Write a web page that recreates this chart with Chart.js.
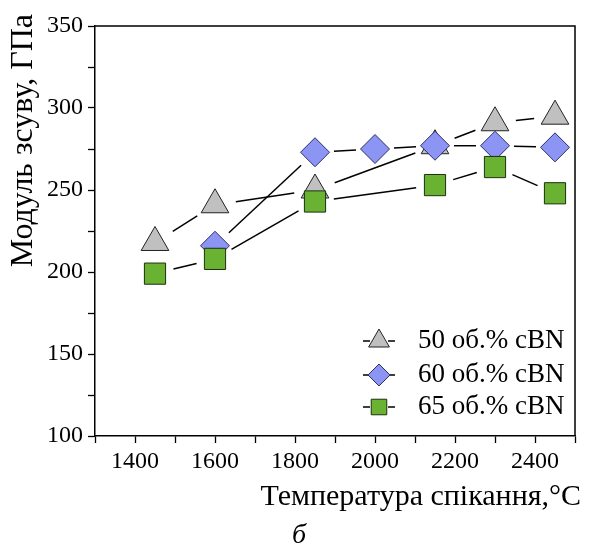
<!DOCTYPE html>
<html>
<head>
<meta charset="utf-8">
<script src="https://cdn.jsdelivr.net/npm/chart.js@4.4.1/dist/chart.umd.min.js"></script>
<style>
html, body { margin: 0; padding: 0; background: #fff; }
#wrap { width: 592px; height: 546px; }
</style>
</head>
<body>
<div id="wrap"><canvas id="shearChart"></canvas></div>
<script>
// Дані
var temps50 = [1450, 1600, 1850, 2150, 2300, 2450];
var shear50 = [218, 241, 250, 277, 291, 295];
var temps60 = [1600, 1850, 2000, 2150, 2300, 2450];
var shear60 = [216, 273, 275, 277, 277, 276];
var temps65 = [1450, 1600, 1850, 2150, 2300, 2450];
var shear65 = [199, 208, 243, 253, 264, 248];
var seriesLabels = ["50 об.% cBN", "60 об.% cBN", "65 об.% cBN"];
var xTickLabels = [1400, 1600, 1800, 2000, 2200, 2400];
var yTickLabels = [100, 150, 200, 250, 300, 350];

var serif = "'Liberation Serif', 'Times New Roman', serif";

function toPoints(xs, ys) {
    return xs.map(function (x, i) { return { x: x, y: ys[i] }; });
}

// Лінії з розривами біля маркерів (як в Origin)
var gapLines = {
    id: 'gapLines',
    beforeDatasetsDraw: function (chart) {
        var ctx = chart.ctx;
        chart.data.datasets.forEach(function (ds, i) {
            var pts = chart.getDatasetMeta(i).data;
            ctx.save();
            ctx.strokeStyle = '#000';
            ctx.lineWidth = 1.5;
            for (var k = 0; k < pts.length - 1; k++) {
                var a = pts[k], b = pts[k + 1];
                var dx = b.x - a.x, dy = b.y - a.y, len = Math.hypot(dx, dy);
                var g = ds.lineGap;
                if (len <= 2 * g) continue;
                ctx.beginPath();
                ctx.moveTo(a.x + dx / len * g, a.y + dy / len * g);
                ctx.lineTo(b.x - dx / len * g, b.y - dy / len * g);
                ctx.stroke();
            }
            ctx.restore();
        });
    }
};

// Рамка, підписи осей, легенда
var decor = {
    id: 'decor',
    afterDraw: function (chart) {
        var ctx = chart.ctx, area = chart.chartArea;
        ctx.save();
        ctx.strokeStyle = '#000';
        ctx.lineWidth = 1.5;
        ctx.beginPath();
        ctx.moveTo(area.left, area.top);
        ctx.lineTo(area.right, area.top);
        ctx.lineTo(area.right, area.bottom);
        ctx.stroke();

        ctx.fillStyle = '#000';
        ctx.font = "30px " + serif;
        ctx.textBaseline = 'middle';
        ctx.textAlign = 'right';
        ctx.fillText("Температура спікання,°C", 581, 497);

        ctx.save();
        ctx.translate(24, 0);
        ctx.rotate(-Math.PI / 2);
        ctx.font = "32px " + serif;
        ctx.textAlign = 'right';
        ctx.fillText("Модуль зсуву, ГПа", -14, 0);
        ctx.restore();

        ctx.font = "italic 28px " + serif;
        ctx.textAlign = 'center';
        ctx.fillText("б", 299, 536);

        // легенда
        var rows = [341, 375, 407];
        chart.data.datasets.forEach(function (ds, i) {
            var y = rows[i];
            ctx.strokeStyle = '#000';
            ctx.lineWidth = 1.4;
            ctx.beginPath();
            ctx.moveTo(363, y); ctx.lineTo(370, y);
            ctx.moveTo(388, y); ctx.lineTo(395, y);
            ctx.stroke();
            ctx.fillStyle = ds.pointBackgroundColor;
            ctx.strokeStyle = ds.pointBorderColor;
            ctx.lineWidth = 1;
            Chart.helpers.drawPoint(ctx, {
                pointStyle: ds.pointStyle, radius: ds.legendRadius, rotation: 0, borderWidth: 1
            }, 379, y);
            ctx.fillStyle = '#000';
            ctx.font = "27px " + serif;
            ctx.textAlign = 'left';
            ctx.fillText(ds.label, 418, y);
        });
        ctx.restore();
    }
};

var ctx = document.getElementById("shearChart").getContext("2d");

var shearChart = new Chart(ctx, {
    type: 'scatter',
    data: {
        datasets: [{
            label: seriesLabels[0],
            data: toPoints(temps50, shear50),
            pointStyle: 'triangle',
            pointRadius: 16,
            legendRadius: 12,
            lineGap: 21,
            pointBackgroundColor: '#c0c0c0',
            pointBorderColor: '#222',
            pointBorderWidth: 1,
            showLine: false,
            order: 3
        }, {
            label: seriesLabels[1],
            data: toPoints(temps60, shear60),
            pointStyle: 'rectRot',
            pointRadius: 14.5,
            legendRadius: 11,
            lineGap: 19,
            pointBackgroundColor: '#8c95f4',
            pointBorderColor: '#2a2f6a',
            pointBorderWidth: 1,
            showLine: false,
            order: 2
        }, {
            label: seriesLabels[2],
            data: toPoints(temps65, shear65),
            pointStyle: 'rect',
            pointRadius: 15,
            legendRadius: 11,
            lineGap: 19,
            pointBackgroundColor: '#69b232',
            pointBorderColor: '#1e3010',
            pointBorderWidth: 1,
            showLine: false,
            order: 1
        }]
    },
    options: {
        responsive: true,
        maintainAspectRatio: false,
        animation: false,
        layout: { padding: { top: 26, right: 11, left: 0, bottom: 0 } },
        plugins: {
            legend: { display: false },
            tooltip: { enabled: false }
        },
        scales: {
            x: {
                type: 'linear',
                min: 1300,
                max: 2500,
                afterFit: function (scale) { scale.height = 110; },
                border: { color: '#000', width: 1.5 },
                grid: { drawOnChartArea: false, tickLength: 7, tickColor: '#000', tickWidth: 1.3 },
                ticks: {
                    stepSize: 100,
                    autoSkip: false,
                    maxRotation: 0,
                    padding: 4,
                    color: '#000',
                    font: { size: 24, family: serif },
                    callback: function (v) { return xTickLabels.indexOf(v) >= 0 ? String(v) : ''; }
                }
            },
            y: {
                min: 100,
                max: 350,
                afterFit: function (scale) { scale.width = 95; },
                border: { color: '#000', width: 1.5 },
                grid: { drawOnChartArea: false, tickLength: 7, tickColor: '#000', tickWidth: 1.3 },
                ticks: {
                    stepSize: 25,
                    autoSkip: false,
                    padding: 5,
                    color: '#000',
                    font: { size: 24, family: serif },
                    callback: function (v) { return yTickLabels.indexOf(v) >= 0 ? String(v) : ''; }
                }
            }
        }
    },
    plugins: [gapLines, decor]
});
</script>
</body>
</html>
